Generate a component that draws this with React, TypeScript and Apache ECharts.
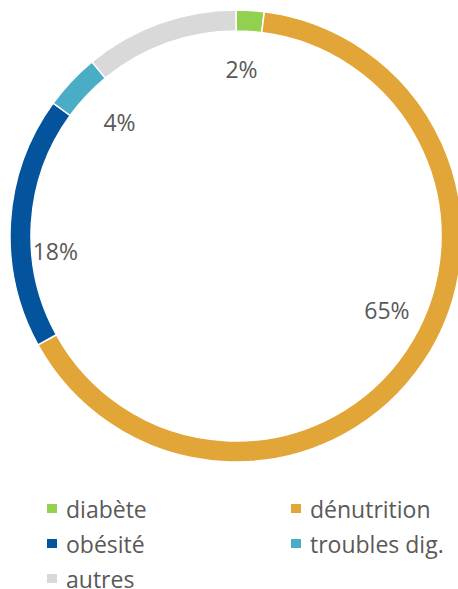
import React, { useEffect, useRef } from "react";
import * as echarts from "echarts";

const categories = ["diabète", "dénutrition", "obésité", "troubles dig.", "autres"];
const values = [2, 65, 18, 4, 11];
const showLabel = [true, true, true, true, false];
const colors = ["#92D050", "#E2A537", "#03539D", "#4BACC6", "#D9D9D9"];
const labelNudgeX = [-5, 12, -13, 6, 0];
const labelNudgeY = [1, -20, 26, 1, 0];
const legendLeftCol = ["diabète", "obésité", "autres"];
const legendRightCol = ["dénutrition", "troubles dig."];

const FONT = "Open Sans";

export default function App() {
  const ref = useRef<HTMLDivElement>(null);
  useEffect(() => {
    if (!ref.current) return;
    const chart = echarts.init(ref.current, undefined, { renderer: "svg" });
    const data = categories.map((name, i) => ({
      name,
      value: values[i],
      itemStyle: { color: colors[i] },
    }));
    const legendCommon = {
      orient: "vertical" as const,
      top: 497,
      height: 140,
      padding: 0,
      icon: "rect",
      itemWidth: 12,
      itemHeight: 11,
      itemGap: 12,
      selectedMode: false,
      textStyle: {
        color: "#595959",
        fontSize: 23,
        fontFamily: FONT,
        lineHeight: 21,
        padding: [0, 0, 0, 3],
      },
    };
    chart.setOption({
      animation: false,
      backgroundColor: "#ffffff",
      legend: [
        { ...legendCommon, left: 45, data: legendLeftCol },
        { ...legendCommon, left: 289, data: legendRightCol },
      ],
      series: [
        {
          type: "pie",
          center: [236, 236],
          radius: [205, 226],
          startAngle: 90,
          clockwise: true,
          silent: true,
          itemStyle: { borderColor: "#ffffff", borderWidth: 1.5 },
          label: { show: false },
          labelLine: { show: false },
          data,
        },
        {
          type: "pie",
          center: [236, 236],
          radius: [150, 180],
          startAngle: 90,
          clockwise: true,
          silent: true,
          itemStyle: { color: "rgba(0,0,0,0)" },
          label: {
            show: true,
            position: "inside",
            color: "#595959",
            fontSize: 23,
            fontFamily: FONT,
            formatter: (p: any) => (showLabel[p.dataIndex] ? `${p.value}%` : ""),
          },
          labelLine: { show: false },
          labelLayout: (p: any) => ({
            dx: labelNudgeX[p.dataIndex],
            dy: labelNudgeY[p.dataIndex],
          }),
          data: categories.map((name, i) => ({ name, value: values[i] })),
        },
      ],
    });
    return () => chart.dispose();
  }, []);
  return (
    <div
      ref={ref}
      style={{ position: "fixed", left: 0, top: 0, width: 458, height: 589 }}
    />
  );
}
